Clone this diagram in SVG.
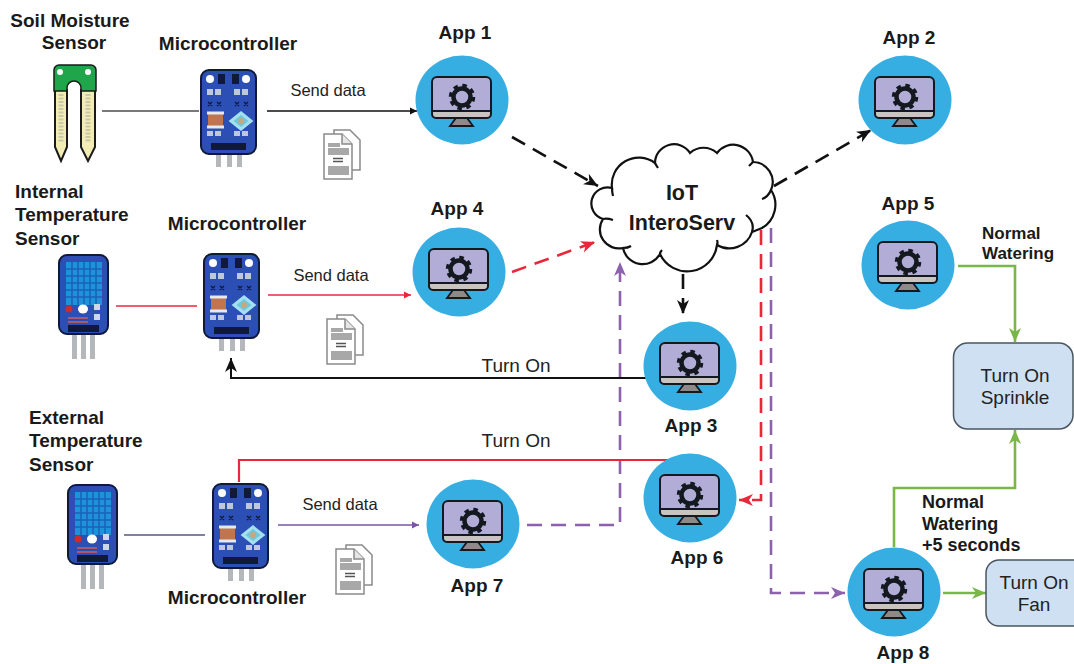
<svg xmlns="http://www.w3.org/2000/svg" width="1074" height="664" viewBox="0 0 1074 664">
<style>
text{font-family:"Liberation Sans",Arial,sans-serif;fill:#1a1a1a}
.b{font-weight:700;font-size:19px;text-anchor:middle}
.l{font-weight:700;font-size:19px}
.s{font-weight:700;font-size:17px}
.s2{font-weight:700;font-size:18px}
.r{font-size:16.500px;text-anchor:middle;fill:#222}
.t{font-size:19px;text-anchor:middle;fill:#222}
.k{stroke:#111}.rd{stroke:#e8283a}.pu{stroke:#8d62ad}.gr{stroke:#7ab648}
.d{stroke-width:2.600;stroke-dasharray:15 9}
.box{stroke:#4a5560;stroke-width:1.500;fill:#cfe0f2}
</style>
<defs>
<marker id="ak" markerUnits="userSpaceOnUse" markerWidth="16" markerHeight="14" refX="14" refY="7" orient="auto"><path d="M0 1 14 7 0 13 4 7z" fill="#111"/></marker>
<marker id="ar" markerUnits="userSpaceOnUse" markerWidth="16" markerHeight="14" refX="14" refY="7" orient="auto"><path d="M0 1 14 7 0 13 4 7z" fill="#e8283a"/></marker>
<marker id="ap" markerUnits="userSpaceOnUse" markerWidth="16" markerHeight="14" refX="14" refY="7" orient="auto"><path d="M0 1 14 7 0 13 4 7z" fill="#8d62ad"/></marker>
<marker id="ag" markerUnits="userSpaceOnUse" markerWidth="16" markerHeight="14" refX="14" refY="7" orient="auto"><path d="M0 1 14 7 0 13 4 7z" fill="#7ab648"/></marker>
<marker id="ks" markerUnits="userSpaceOnUse" markerWidth="8" markerHeight="8" refX="7" refY="4" orient="auto"><path d="M0 .5 7 4 0 7.500z" fill="#111"/></marker>
<marker id="rs" markerUnits="userSpaceOnUse" markerWidth="8" markerHeight="8" refX="7" refY="4" orient="auto"><path d="M0 .5 7 4 0 7.500z" fill="#e8283a"/></marker>
<marker id="ps" markerUnits="userSpaceOnUse" markerWidth="8" markerHeight="8" refX="7" refY="4" orient="auto"><path d="M0 .5 7 4 0 7.500z" fill="#7a55a8"/></marker>
<g id="app">
<ellipse rx="46.500" ry="44.500" fill="#37aee2"/>
<path d="M-30 11V-18a5 5 0 0 1 5-5H24a5 5 0 0 1 5 5V11z" fill="#b1add6" stroke="#14181f" stroke-width="2"/>
<path d="M-30 11H29V14a4 4 0 0 1-4 4H-26a4 4 0 0 1-4-4z" fill="#c9c4c0" stroke="#14181f" stroke-width="2"/>
<path d="M-6 18H5L11 26H-12z" fill="#8f8a88" stroke="#14181f" stroke-width="1.800"/>
<circle cy="-3" r="8.500" fill="none" stroke="#14181f" stroke-width="4.500"/>
<circle cy="-3" r="11.500" fill="none" stroke="#14181f" stroke-width="3.500" stroke-dasharray="4.500 4.530"/>
</g>
<g id="micro">
<path d="M16 86h5v12h-5zM27 86h5v12h-5zM37 86h5v12h-5z" fill="#b5b8bb"/>
<rect x="1" y="1" width="55" height="84" rx="8" fill="#2b4fb5" stroke="#101a38" stroke-width="2"/>
<rect x="11" y="74" width="35" height="7" fill="#101a38"/>
<circle cx="10" cy="10" r="4" fill="#fff"/><circle cx="46" cy="10" r="4" fill="#fff"/>
<rect x="18" y="5" width="7" height="10" fill="#101a38"/><rect x="32" y="5" width="7" height="10" fill="#101a38"/>
<path d="M7 20h6v6H7zM15 20h6v6H15zM34 20h6v6H34zM42 20h6v6H42zM7 62h6v5H7zM15 62h6v5H15zM34 62h6v5H34zM42 62h6v5H42z" fill="#bfc7dd"/>
<path d="M8 33l4 4M12 33l-4 4M17 33l4 4M21 33l-4 4M35 33l4 4M39 33l-4 4M44 33l4 4M48 33l-4 4" stroke="#101a38" stroke-width="1.300"/>
<rect x="8" y="45" width="15" height="12" fill="#c1744d"/>
<path d="M7 44H24M7 58H24" stroke="#e4e8f2" stroke-width="3"/>
<path d="M41 44 51 52 41 60 31 52z" fill="#6fc7de" stroke="#a5e0ee" stroke-width="3"/>
<circle cx="41" cy="52" r="3" fill="#c7a77d"/>
</g>
<g id="sensor">
<path d="M14 80h5v25h-5zM23 80h5v25h-5zM32 80h5v25h-5z" fill="#b5b8bb"/>
<rect x="1" y="1" width="49" height="79" rx="8" fill="#2b4fb5" stroke="#101a38" stroke-width="2"/>
<rect x="8" y="8" width="36" height="43" fill="#1d93da"/>
<path d="M8 15H44M8 22H44M8 29H44M8 36H44M8 43H44M14 8V51M20 8V51M26 8V51M32 8V51M38 8V51" stroke="#1a62b8" stroke-width="1.500"/>
<circle cx="11" cy="55" r="3.500" fill="#d02a2a"/>
<ellipse cx="25" cy="55" rx="5" ry="4.500" fill="#fff"/>
<rect x="36" y="50" width="6" height="6" fill="#cfd6ea"/><rect x="36" y="60" width="6" height="6" fill="#cfd6ea"/>
<path d="M10 64H30M10 68H30" stroke="#d85a5a" stroke-width="1.500"/>
<rect x="10" y="71" width="31" height="7" fill="#101a38"/>
</g>
<g id="file">
<path d="M12 2H28L38 12V42H12z" fill="#fff" stroke="#8a8a8a" stroke-width="1.500"/>
<path d="M2 6H20L30 16V51H2z" fill="#fff" stroke="#8a8a8a" stroke-width="1.500"/>
<path d="M20 6V16H30" fill="#e6e6e6" stroke="#8a8a8a" stroke-width="1.500"/>
<path d="M6 15H18V19H6zM6 20H27V27H6zM6 38H27V47H6z" fill="#a8a8a8"/>
<path d="M11 30.500H21M11 33.500H21" stroke="#555" stroke-width="1.500"/>
</g>
</defs>

<g id="connectors" fill="none">
<path class="k" stroke-width="1.300" opacity=".75" d="M102 111H199"/>
<path class="k" stroke-width="1.300" d="M267 111H417" marker-end="url(#ks)"/>
<path class="rd" stroke-width="1.300" d="M116 306H197"/>
<path class="rd" stroke-width="1.300" d="M268 295H411" marker-end="url(#rs)"/>
<path stroke="#55558a" stroke-width="1.300" d="M124 535H205"/>
<path stroke="#7a55a8" stroke-width="1.300" d="M278 525H419" marker-end="url(#ps)"/>
<path class="k d" d="M512 137 598 186" marker-end="url(#ak)"/>
<path class="k d" d="M774 186 871 130" marker-end="url(#ak)"/>
<path class="k d" d="M683 274V314" stroke-dasharray="15 7" marker-end="url(#ak)"/>
<path class="rd d" d="M512 272 595 242" marker-end="url(#ar)"/>
<path class="rd d" d="M761 230V500H739" marker-end="url(#ar)"/>
<path class="pu d" d="M527 525H620V262" marker-end="url(#ap)"/>
<path class="pu d" d="M771 228V593H845" marker-end="url(#ap)"/>
<path class="k" stroke-width="2" d="M650 378H231V358" marker-end="url(#ak)"/>
<path class="rd" stroke-width="2.200" d="M668 460H239V482"/>
<path class="gr" stroke-width="2.600" d="M958 266H1015V342" marker-end="url(#ag)"/>
<path class="gr" stroke-width="2.600" d="M894 547V488H1015V430" marker-end="url(#ag)"/>
<path class="gr" stroke-width="2.600" d="M943 593H986" marker-end="url(#ag)"/>
</g>

<g id="soil-sensor">
<path d="M55 90H67V147L61 161 55 147zM81 90H95V147L88 161 81 147z" fill="#f3edb5" stroke="#1a1a1a" stroke-width="2"/>
<path d="M54 70a5 5 0 0 1 5-5H91a5 5 0 0 1 5 5V91H81V88a7 7 0 0 0-14 0V91H54z" fill="#1fa64b" stroke="#1a1a1a" stroke-width="1.500"/>
<circle cx="60" cy="72" r="3" fill="#fff"/><circle cx="88" cy="72" r="3" fill="#fff"/>
<path d="M61 94V143M88 94V143" stroke="#c9c9a8" stroke-width="5" stroke-dasharray="2 1.500"/>
<text class="b" x="70" y="27">Soil Moisture</text><text class="b" x="74" y="49">Sensor</text>
</g>
<g id="internal-sensor"><use href="#sensor" x="58" y="254"/>
<text class="l" x="15" y="198">Internal</text><text class="l" x="15" y="221">Temperature</text><text class="l" x="15" y="245">Sensor</text></g>
<g id="external-sensor"><use href="#sensor" x="67" y="484"/>
<text class="l" x="29" y="424">External</text><text class="l" x="29" y="447">Temperature</text><text class="l" x="29" y="471">Sensor</text></g>
<g id="micro-1"><use href="#micro" x="200" y="69"/><text class="b" x="228" y="50">Microcontroller</text></g>
<g id="micro-2"><use href="#micro" x="203" y="253"/><text class="b" x="237" y="230">Microcontroller</text></g>
<g id="micro-3"><use href="#micro" x="212" y="483"/><text class="b" x="237" y="604">Microcontroller</text></g>
<g id="file-1"><use href="#file" x="322" y="128"/></g>
<g id="file-2"><use href="#file" x="325" y="313"/></g>
<g id="file-3"><use href="#file" x="334" y="543"/></g>
<text class="r" x="328" y="96">Send data</text>
<text class="r" x="331" y="281">Send data</text>
<text class="r" x="340" y="510">Send data</text>
<text class="t" x="516" y="372">Turn On</text>
<text class="t" x="516" y="447">Turn On</text>

<g id="cloud">
<path d="M612 188A27 27 0 0 1 655 163A19 19 0 0 1 690 153A20 20 0 0 1 717 153A20 20 0 0 1 753 162A20 20 0 0 1 771 190A27 27 0 0 1 762 228L752 232A24 24 0 0 1 717 245A30 30 0 0 1 660 254A20 20 0 0 1 623 248A19 19 0 0 1 603 219A16 16 0 1 1 612 188z" fill="#fff" stroke="#111" stroke-width="2.200"/>
<path d="M612 188Q612 192 613 196M603 219Q607 218 613 220M655 163Q656 165 658 168M753 162Q751 164 749 166M771 190Q768 197 762 199M752 232Q755 222 746 215M717 245Q718 243 717 240M660 254Q660 252 662 250M623 248Q628 248 631 246" fill="none" stroke="#111" stroke-width="2.200"/>
<text x="682" y="200" text-anchor="middle" font-weight="700" font-size="21.500">IoT</text>
<text x="682" y="230" text-anchor="middle" font-weight="700" font-size="21.500">InteroServ</text>
</g>

<g id="app-1"><use href="#app" x="462" y="100"/><text class="b" x="465" y="39">App 1</text></g>
<g id="app-2"><use href="#app" x="905" y="100"/><text class="b" x="909" y="44">App 2</text></g>
<g id="app-3"><use href="#app" x="690" y="366"/><text class="b" x="691" y="432">App 3</text></g>
<g id="app-4"><use href="#app" x="459" y="272"/><text class="b" x="457" y="215">App 4</text></g>
<g id="app-5"><use href="#app" x="908" y="265"/><text class="b" x="908" y="210">App 5</text></g>
<g id="app-6"><use href="#app" x="690" y="498"/><text class="b" x="697" y="564">App 6</text></g>
<g id="app-7"><use href="#app" x="473" y="524"/><text class="b" x="477" y="592">App 7</text></g>
<g id="app-8"><use href="#app" x="894" y="592"/><text class="b" x="903" y="659">App 8</text></g>

<text class="s" x="982" y="239">Normal</text><text class="s" x="982" y="259">Watering</text>
<text class="s2" x="922" y="508">Normal</text><text class="s2" x="922" y="530">Watering</text><text class="s2" x="922" y="551">+5 seconds</text>

<g id="sprinkle"><rect class="box" x="953.500" y="343" width="119.500" height="86" rx="14"/>
<text class="t" x="1015" y="382">Turn On</text><text class="t" x="1015" y="404">Sprinkle</text></g>
<g id="fan"><rect class="box" x="986" y="560" width="100" height="66" rx="13"/>
<text class="t" x="1034" y="589">Turn On</text><text class="t" x="1034" y="611">Fan</text></g>
</svg>
